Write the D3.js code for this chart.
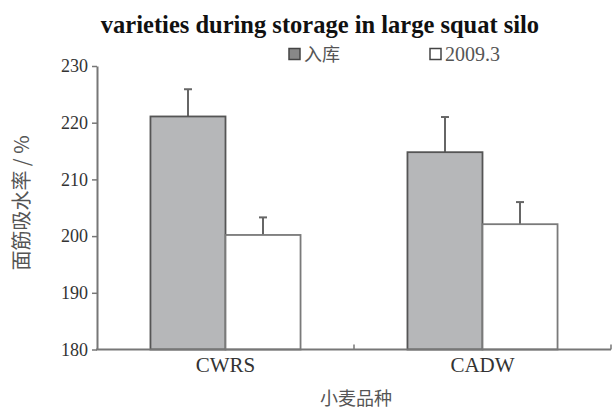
<!DOCTYPE html>
<html>
<head>
<meta charset="utf-8">
<script src="https://cdn.jsdelivr.net/npm/d3@7"></script>
<style>
  html, body { margin: 0; padding: 0; background: #fff; }
  svg { display: block; }
</style>
</head>
<body>
<svg id="chart" width="614" height="412"></svg>
<script>
// Wheat varieties and farinograph water absorption (%)
const categories = ["CWRS", "CADW"];
const seriesNames = ["入库", "2009.3"];
const valuesIn = [221.1, 214.8];      // at warehousing
const values2009 = [200.2, 202.1];    // 2009.3
const errorsIn = [4.8, 6.2];
const errors2009 = [3.1, 3.9];
const yTicks = [180, 190, 200, 210, 220, 230];

const titleText = "varieties during storage in large squat silo";
const yLabel = "面筋吸水率 / %";
const xLabel = "小麦品种";

const serif = "'Liberation Serif', 'Times New Roman', serif";
const cjk = "'Noto Sans CJK SC', sans-serif";

const svg = d3.select("#chart");
const W = 614, H = 412;
const m = { left: 97, right: 3, top: 66, bottom: 62.5 };

const x = d3.scaleBand().domain(categories).range([m.left, W - m.right]).padding(0);
const y = d3.scaleLinear().domain([180, 230]).range([H - m.bottom, m.top]);

const groupWidth = x.bandwidth() * 0.584;
const xs = d3.scaleBand().domain(seriesNames).range([-groupWidth / 2, groupWidth / 2]).padding(0);

const fills = { "入库": "#b6b7b9", "2009.3": "#ffffff" };
const strokes = { "入库": "#555555", "2009.3": "#7a7a7a" };

const rows = [];
categories.forEach((c, i) => {
  rows.push({ cat: c, s: seriesNames[0], v: valuesIn[i], e: errorsIn[i] });
  rows.push({ cat: c, s: seriesNames[1], v: values2009[i], e: errors2009[i] });
});

// Title
svg.append("text")
  .attr("x", 320).attr("y", 32.5)
  .attr("text-anchor", "middle")
  .style("font-family", serif).style("font-weight", "bold").style("font-size", "24.5px")
  .attr("fill", "#111")
  .text(titleText);

// Error bars (upward only)
const eb = svg.append("g");
rows.forEach(d => {
  const cx = x(d.cat) + x.bandwidth() / 2 + xs(d.s) + xs.bandwidth() / 2;
  eb.append("line")
    .attr("x1", cx).attr("x2", cx)
    .attr("y1", y(d.v)).attr("y2", y(d.v + d.e))
    .attr("stroke", "#666").attr("stroke-width", 2);
  eb.append("line")
    .attr("x1", cx - 4).attr("x2", cx + 4)
    .attr("y1", y(d.v + d.e)).attr("y2", y(d.v + d.e))
    .attr("stroke", "#666").attr("stroke-width", 2);
});

// Bars
svg.append("g").selectAll("rect").data(rows).join("rect")
  .attr("x", d => x(d.cat) + x.bandwidth() / 2 + xs(d.s))
  .attr("y", d => y(d.v))
  .attr("width", xs.bandwidth())
  .attr("height", d => y(180) - y(d.v))
  .attr("fill", d => fills[d.s])
  .attr("stroke", d => strokes[d.s])
  .attr("stroke-width", 1.8);

// Y axis
const yAxis = svg.append("g")
  .attr("transform", `translate(${m.left},0)`)
  .call(d3.axisLeft(y).tickValues(yTicks).tickSize(5).tickPadding(4).tickSizeOuter(0));
yAxis.select(".domain").attr("stroke", "#777").attr("stroke-width", 2);
yAxis.selectAll(".tick line").attr("stroke", "#777").attr("stroke-width", 1.5);
yAxis.selectAll(".tick text")
  .style("font-family", serif).style("font-size", "18px").attr("fill", "#333");

// X axis with small inward ticks at band boundaries
const xAxisY = y(180);
const xAxis = svg.append("g").attr("transform", `translate(0,${xAxisY})`);
xAxis.append("line")
  .attr("x1", m.left - 1).attr("x2", W - m.right)
  .attr("stroke", "#777").attr("stroke-width", 2);
const bounds = categories.map(c => x(c) + x.bandwidth());
xAxis.selectAll(".bt").data(bounds).join("line")
  .attr("x1", d => d).attr("x2", d => d)
  .attr("y1", 0).attr("y2", -5)
  .attr("stroke", "#777").attr("stroke-width", 1.5);
xAxis.selectAll(".cl").data(categories).join("text")
  .attr("x", d => x(d) + x.bandwidth() / 2)
  .attr("y", 22)
  .attr("text-anchor", "middle")
  .style("font-family", serif).style("font-size", "21px").attr("fill", "#333")
  .text(d => d);

// Axis titles
svg.append("text")
  .attr("transform", "translate(29,203) rotate(-90)")
  .attr("text-anchor", "middle")
  .style("font-family", cjk).style("font-size", "20px").attr("fill", "#555")
  .text(yLabel);

svg.append("text")
  .attr("x", 356).attr("y", 405)
  .attr("text-anchor", "middle")
  .style("font-family", cjk).style("font-size", "18px").attr("fill", "#555")
  .text(xLabel);

// Legend
const legend = svg.append("g");
const legendX = [289, 430];
seriesNames.forEach((s, i) => {
  legend.append("rect")
    .attr("x", legendX[i]).attr("y", 48.5)
    .attr("width", 11).attr("height", 11)
    .attr("fill", i === 0 ? "#888" : "#fff")
    .attr("stroke", "#444").attr("stroke-width", 1.5);
  legend.append("text")
    .attr("x", legendX[i] + 15).attr("y", 60.5)
    .style("font-family", i === 0 ? cjk : serif)
    .style("font-size", i === 0 ? "18px" : "20px")
    .attr("fill", "#555")
    .text(s);
});
</script>
</body>
</html>
